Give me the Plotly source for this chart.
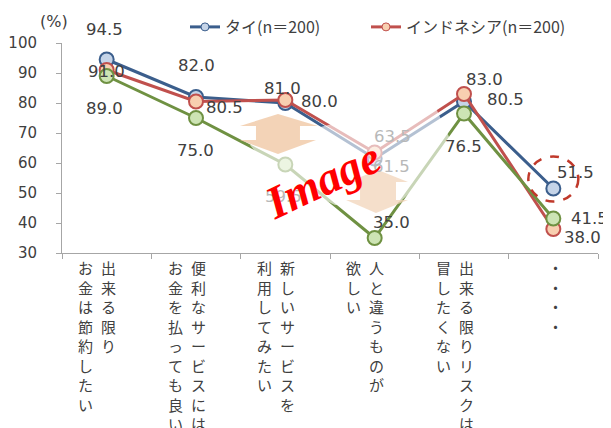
import plotly.graph_objects as go

# ---------------- data ----------------
categories = ["出来る限りお金は節約したい", "便利なサービスにはお金を払っても良い",
              "新しいサービスを利用してみたい", "人と違うものが欲しい",
              "出来る限りリスクは冒したくない", "・・・・"]
label_line1 = ["出来る限り", "便利なサービスには", "新しいサービスを", "人と違うものが",
               "出来る限りリスクは", "・・・・"]
label_line2 = ["お金は節約したい", "お金を払っても良い", "利用してみたい", "欲しい",
               "冒したくない", ""]

name_thai = "タイ(n＝200)"
name_indo = "インドネシア(n＝200)"
thai = [94.5, 82.0, 80.0, 61.5, 80.5, 51.5]
indonesia = [91.0, 80.5, 81.0, 63.5, 83.0, 38.0]
third = [89.0, 75.0, 59.5, 35.0, 76.5, 41.5]

y_ticks = [30, 40, 50, 60, 70, 80, 90, 100]

# ---------------- style ----------------
FONT = "Noto Sans CJK JP"
NUMFONT = "DejaVu Sans"
TXT = "#404040"
FADE = "#b8b8b8"
blue_line, blue_fill = "#3B5E8C", "#C5D4E8"
red_line, red_fill = "#C0504D", "#F8CFB0"
green_line, green_fill = "#6F9142", "#CDE4B4"

# label offsets in px (dx right, dy down)
off_thai = [(-2, -30), (0, -32), (34, -2), (17, 8), (41, -2), (22, -16)]
off_indo = [(0, 1), (28, 6), (-3, -12), (18, -16), (20, -15), (29, 8)]
off_third = [(-2, 32), (-1, 32), (-2, 32), (17, -16), (-1, 33), (36, 0)]
fade_thai = [False, False, False, True, False, False]
fade_indo = [False, False, False, True, False, False]
fade_third = [False, False, True, False, False, False]

OFF = 8  # page body margin
W, H = 611 - OFF, 428 - OFF
ML, MT = 62 - OFF, 43 - OFF
MR = W - (598 - OFF)
MB = H - (253 - OFF)
PW, PH = W - ML - MR, H - MT - MB


def P(x, y):
    """window pixel -> paper coords"""
    x -= OFF
    y -= OFF
    return (x - ML) / PW, (H - MB - y) / PH


def path(pts):
    s = ""
    for i, (x, y) in enumerate(pts):
        px, py = P(x, y)
        s += ("M" if i == 0 else "L") + f"{px:.4f},{py:.4f} "
    return s + "Z"


fig = go.Figure()

for vals, name, lc, fc in [(thai, name_thai, blue_line, blue_fill),
                           (indonesia, name_indo, red_line, red_fill),
                           (third, "", green_line, green_fill)]:
    fig.add_trace(go.Scatter(
        x=categories, y=vals, mode="lines+markers", name=name, showlegend=False,
        line=dict(color=lc, width=3),
        marker=dict(size=14, color=fc, line=dict(color=lc, width=2)),
        hoverinfo="skip"))

# legend-only traces
fig.add_trace(go.Scatter(x=[None], y=[None], mode="lines+markers", name=name_thai,
                         line=dict(color=blue_line, width=3),
                         marker=dict(size=8, color=blue_fill, line=dict(color=blue_line, width=1)),
                         legend="legend"))
fig.add_trace(go.Scatter(x=[None], y=[None], mode="lines+markers", name=name_indo,
                         line=dict(color=red_line, width=3),
                         marker=dict(size=8, color=red_fill, line=dict(color=red_line, width=1)),
                         legend="legend2"))

# data labels
for vals, offs, fades in [(thai, off_thai, fade_thai), (indonesia, off_indo, fade_indo),
                          (third, off_third, fade_third)]:
    for c, v, (dx, dy), fd in zip(categories, vals, offs, fades):
        fig.add_annotation(x=c, y=v, xref="x", yref="y", text=f"{v:.1f}", showarrow=False,
                           xshift=dx, yshift=-dy,
                           font=dict(family=NUMFONT, size=16.5, color=FADE if fd else TXT))

# vertical category labels
for c, l1, l2 in zip(categories, label_line1, label_line2):
    for txt, xs in [(l1, 2), (l2, -21)]:
        if not txt:
            continue
        fig.add_annotation(x=c, y=0, xref="x", yref="paper", text="<br>".join(list(txt)),
                           showarrow=False, xanchor="center", yanchor="top", xshift=xs, yshift=-2,
                           align="center", font=dict(family=FONT, size=15, color=TXT))

# (%) label
fig.add_annotation(x=P(54, 22)[0], y=P(54, 22)[1], xref="paper", yref="paper", text="(%)",
                   showarrow=False, xanchor="center", yanchor="middle",
                   font=dict(family=NUMFONT, size=16, color=TXT))

# watermark: faded band, arrows, text
shapes = [
    dict(type="path", xref="paper", yref="paper", layer="above", line=dict(width=0),
         fillcolor="rgba(255,255,255,0.62)",
         path=path([(250, 145), (340, 122), (435, 106), (455, 150), (400, 202),
                    (335, 205), (275, 176)])),
    dict(type="path", xref="paper", yref="paper", layer="above", line=dict(width=0),
         fillcolor="rgba(240,200,165,0.8)",
         path=path([(278, 114), (318, 126), (300, 126), (300, 140), (316, 140), (278, 154),
                    (240, 140), (256, 140), (256, 126), (240, 126)])),
    dict(type="path", xref="paper", yref="paper", layer="above", line=dict(width=0),
         fillcolor="rgba(242,212,185,0.75)",
         path=path([(378, 170), (408, 182), (396, 182), (396, 200), (408, 200), (376, 213),
                    (346, 200), (360, 200), (360, 182), (348, 182)])),
]
# dashed highlight circle around the last タイ point
shapes.append(dict(type="circle", xref="x", yref="y", xsizemode="pixel", ysizemode="pixel",
                   xanchor=5, yanchor=thai[5], x0=-25, x1=25, y0=-13, y1=32, layer="above",
                   line=dict(color="#C0392B", width=2.5, dash="dash")))
fig.update_layout(shapes=shapes)

fig.add_annotation(x=P(322, 180)[0], y=P(322, 180)[1], xref="paper", yref="paper",
                   text="<b><i>Image</i></b>", showarrow=False, textangle=-25,
                   xanchor="center", yanchor="middle",
                   font=dict(family="Liberation Serif", size=46, color="#FF0000"))

fig.update_layout(
    width=W, height=H,
    margin=dict(l=ML, r=MR, t=MT, b=MB, autoexpand=False),
    paper_bgcolor="white", plot_bgcolor="white",
    font=dict(family=FONT, color=TXT),
    xaxis=dict(type="category", range=[-0.5, 5.5], showticklabels=False, showgrid=False,
               showline=True, linecolor="#a6a6a6", linewidth=1, ticks="outside",
               tickson="boundaries", ticklen=5, tickcolor="#a6a6a6", zeroline=False),
    yaxis=dict(range=[30, 100], tickvals=y_ticks, showgrid=False, showline=True,
               linecolor="#a6a6a6", linewidth=1, ticks="outside", ticklen=5,
               tickcolor="#a6a6a6", zeroline=False, ticklabelstandoff=16,
               tickfont=dict(family=NUMFONT, size=15, color=TXT)),
    legend=dict(orientation="h", x=P(185, 0)[0], y=P(0, 10)[1], xanchor="left", yanchor="top",
                font=dict(family=FONT, size=16, color=TXT), bgcolor="rgba(0,0,0,0)"),
    legend2=dict(orientation="h", x=P(366, 0)[0], y=P(0, 10)[1], xanchor="left", yanchor="top",
                 font=dict(family=FONT, size=16, color=TXT), bgcolor="rgba(0,0,0,0)"),
)

fig.write_html("out.html")
